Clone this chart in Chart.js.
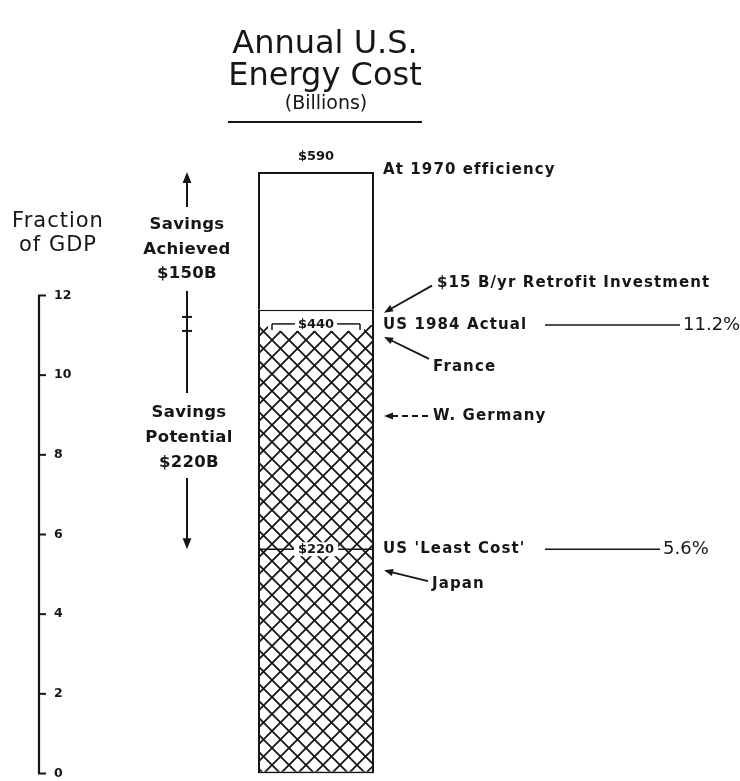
<!DOCTYPE html>
<html><head><meta charset="utf-8">
<script src="https://cdn.jsdelivr.net/npm/chart.js@4.4.1/dist/chart.umd.min.js"></script>
<style>html,body{margin:0;padding:0;background:#fff}#wrap{width:740px;height:781px;position:relative}</style>
</head><body><div id="wrap"><canvas id="c" width="740" height="781"></canvas></div>
<script>
// ---- data ----
const categories = ['Annual U.S. Energy Cost'];
const actualCost = [440];          // US 1984 actual ($B) - hatched
const retrofitInvestment = [15];   // $15 B/yr retrofit investment
const remainingToNoSavings = [135];// up to $590 at 1970 efficiency
const costLevels = [590, 440, 220];
const costLabels = ['$590', '$440', '$220'];
const gdpTicks = [0, 2, 4, 6, 8, 10, 12];
const gdpShares = [11.2, 5.6];
const gdpShareLabels = ['11.2%', '5.6%'];
const savingsAchievedLabel = ['Savings', 'Achieved', '$150B'];
const savingsPotentialLabel = ['Savings', 'Potential', '$220B'];

const ink = '#161616';

function hatchPattern() {
  const s = 17;
  const pc = document.createElement('canvas');
  pc.width = s; pc.height = s;
  const p = pc.getContext('2d');
  p.fillStyle = '#fff'; p.fillRect(0, 0, s, s);
  p.strokeStyle = ink; p.lineWidth = 1.8;
  p.beginPath();
  p.moveTo(-2, -2); p.lineTo(s + 2, s + 2);
  p.moveTo(-2, s + 2); p.lineTo(s + 2, -2);
  p.stroke();
  return document.getElementById('c').getContext('2d').createPattern(pc, 'repeat');
}

function txt(c, s, x, y, font, align, spacing) {
  c.font = font;
  c.textAlign = align || 'left';
  c.letterSpacing = spacing || '0px';
  c.fillText(s, x, y);
  c.letterSpacing = '0px';
}
function seg(c, x1, y1, x2, y2, w, dash) {
  c.lineWidth = w || 1.5;
  c.setLineDash(dash || []);
  c.beginPath(); c.moveTo(x1, y1); c.lineTo(x2, y2); c.stroke();
  c.setLineDash([]);
}
function arrow(c, x1, y1, x2, y2, w, head, dash) {
  const a = Math.atan2(y2 - y1, x2 - x1);
  const h = head || 9;
  seg(c, x1, y1, x2 - Math.cos(a) * h * 0.6, y2 - Math.sin(a) * h * 0.6, w, dash);
  c.beginPath();
  c.moveTo(x2, y2);
  c.lineTo(x2 - h * Math.cos(a) + h * 0.4 * Math.sin(a), y2 - h * Math.sin(a) - h * 0.4 * Math.cos(a));
  c.lineTo(x2 - h * Math.cos(a) - h * 0.4 * Math.sin(a), y2 - h * Math.sin(a) + h * 0.4 * Math.cos(a));
  c.closePath(); c.fill();
}

const annot = {
  id: 'annot',
  afterDraw(ch) {
    const c = ch.ctx;
    const ys = ch.scales.y, g = ch.scales.gdp;
    const bar = ch.getDatasetMeta(0).data[0];
    const L = bar.x - bar.width / 2, R = bar.x + bar.width / 2, cx = bar.x;
    const py = v => ys.getPixelForValue(v);
    const gp = v => g.getPixelForValue(v);
    c.save();
    c.fillStyle = ink; c.strokeStyle = ink; c.textBaseline = 'middle';

    // Title
    const tf = '"DejaVu Sans", sans-serif';
    txt(c, 'Annual U.S.', 325, 45, '32px ' + tf, 'center', '0px');
    txt(c, 'Energy Cost', 325, 77, '32px ' + tf, 'center', '0px');
    txt(c, '(Billions)', 326, 104, '19px ' + tf, 'center', '0px');
    seg(c, 228, 122, 422, 122, 2);

    // GDP axis line + ticks
    const ax = g.right - 15;
    seg(c, ax, gp(0), ax, gp(gdpTicks[gdpTicks.length - 1]), 2.2);
    gdpTicks.forEach(v => seg(c, ax - 1, gp(v), ax + 7, gp(v), 2));
    txt(c, 'Fraction', 58, 222, '21px ' + tf, 'center', '1px');
    txt(c, 'of GDP', 58, 246, '21px ' + tf, 'center', '1px');

    // Savings achieved / potential arrows
    const sx = 187;
    const bf = 'bold 16.5px ' + tf;
    arrow(c, sx, 207, sx, py(costLevels[0]), 2, 11);
    savingsAchievedLabel.forEach((s, i) => txt(c, s, sx, 225 + i * 24.5, bf, 'center', '0.3px'));
    seg(c, sx, 291, sx, 393, 2);
    const ib = py(costLevels[1]) - 1;
    seg(c, sx - 5, ib - 7, sx + 5, ib - 7, 2);
    seg(c, sx - 5, ib + 7, sx + 5, ib + 7, 2);
    savingsPotentialLabel.forEach((s, i) => txt(c, s, sx + 2, 413 + i * 25, bf, 'center', '0.3px'));
    arrow(c, sx, 478, sx, py(costLevels[2]), 2, 11);

    // Bar value labels
    const lf = 'bold 13px ' + tf;
    txt(c, costLabels[0], cx, py(costLevels[0]) - 15, lf, 'center');
    // $440
    const y440 = py(costLevels[1]);
    c.font = lf;
    const w440 = c.measureText(costLabels[1]).width;
    c.fillStyle = '#fff';
    c.fillRect(L + 10, y440 - 8, R - L - 20, 14);
    c.fillStyle = ink;
    seg(c, L + 14, y440 - 1, cx - w440 / 2 - 3, y440 - 1, 1.5);
    seg(c, cx + w440 / 2 + 3, y440 - 1, R - 14, y440 - 1, 1.5);
    seg(c, L + 14, y440 - 1, L + 14, y440 + 5, 1.5);
    seg(c, R - 14, y440 - 1, R - 14, y440 + 5, 1.5);
    txt(c, costLabels[1], cx, y440, lf, 'center');
    // $220
    const y220 = py(costLevels[2]);
    seg(c, L, y220, R, y220, 1.5);
    const w220 = c.measureText(costLabels[2]).width;
    c.fillStyle = '#fff';
    c.fillRect(cx - w220 / 2 - 4, y220 - 7, w220 + 8, 14);
    c.fillStyle = ink;
    txt(c, costLabels[2], cx, y220, lf, 'center');

    // Right annotations
    const af = 'bold 15px ' + tf;
    const sp = '1.1px';
    const tx = R + 9;
    txt(c, 'At 1970 efficiency', tx, py(costLevels[0]) - 2, af, 'left', sp);
    const yr = py(costLevels[1] + retrofitInvestment[0]);
    txt(c, '$15 B/yr Retrofit Investment', 437, yr - 27, af, 'left', sp);
    arrow(c, 432, yr - 24, R + 10, yr + 3, 1.8, 9);
    txt(c, 'US 1984 Actual', tx, y440, af, 'left', sp);
    seg(c, 545, y440, 680, y440, 1.5);
    txt(c, gdpShareLabels[0], 683, y440, '18px ' + tf, 'left');
    txt(c, 'France', 433, y440 + 42, af, 'left', sp);
    arrow(c, 429, y440 + 34, R + 10, y440 + 12, 1.8, 9);
    txt(c, 'W. Germany', 433, 416, af, 'left', sp);
    arrow(c, 428, 416, R + 10, 416, 1.8, 9, [6, 4]);
    txt(c, "US 'Least Cost'", tx, y220, af, 'left', sp);
    seg(c, 545, y220, 660, y220, 1.5);
    txt(c, gdpShareLabels[1], 663, y220, '18px ' + tf, 'left');
    txt(c, 'Japan', 432, y220 + 35, af, 'left', sp);
    arrow(c, 428, y220 + 32, R + 10, y220 + 21, 1.8, 9);
    c.restore();
  }
};

new Chart(document.getElementById('c'), {
  type: 'bar',
  data: {
    labels: categories,
    datasets: [
      { label: 'US 1984 actual', data: actualCost, backgroundColor: hatchPattern(), borderColor: ink,
        borderWidth: { left: 2, right: 2, bottom: 2, top: 0 }, borderSkipped: false },
      { label: 'Retrofit investment', data: retrofitInvestment, backgroundColor: '#fff', borderColor: ink,
        borderWidth: { left: 2, right: 2, bottom: 0, top: 1.6 }, borderSkipped: false },
      { label: 'At 1970 efficiency', data: remainingToNoSavings, backgroundColor: '#fff', borderColor: ink,
        borderWidth: { left: 2, right: 2, bottom: 0, top: 2 }, borderSkipped: false }
    ]
  },
  options: {
    responsive: false,
    devicePixelRatio: 1,
    animation: false,
    datasets: { bar: { barThickness: 116, inflateAmount: 0 } },
    layout: { padding: { left: 54, right: 162, top: 172, bottom: 6 } },
    plugins: { legend: { display: false }, tooltip: { enabled: false }, title: { display: false } },
    scales: {
      x: { stacked: true, display: false },
      y: { stacked: true, display: false, min: 0, max: 590 },
      gdp: {
        position: 'left', min: 0, max: 15.1,
        afterBuildTicks: s => { s.ticks = gdpTicks.map(v => ({ value: v })); },
        grid: { display: false, drawTicks: false },
        border: { display: false },
        ticks: { mirror: true, padding: 0, color: ink,
          font: { family: 'DejaVu Sans', weight: 'bold', size: 12.5 } }
      }
    }
  },
  plugins: [annot]
});
</script></body></html>
